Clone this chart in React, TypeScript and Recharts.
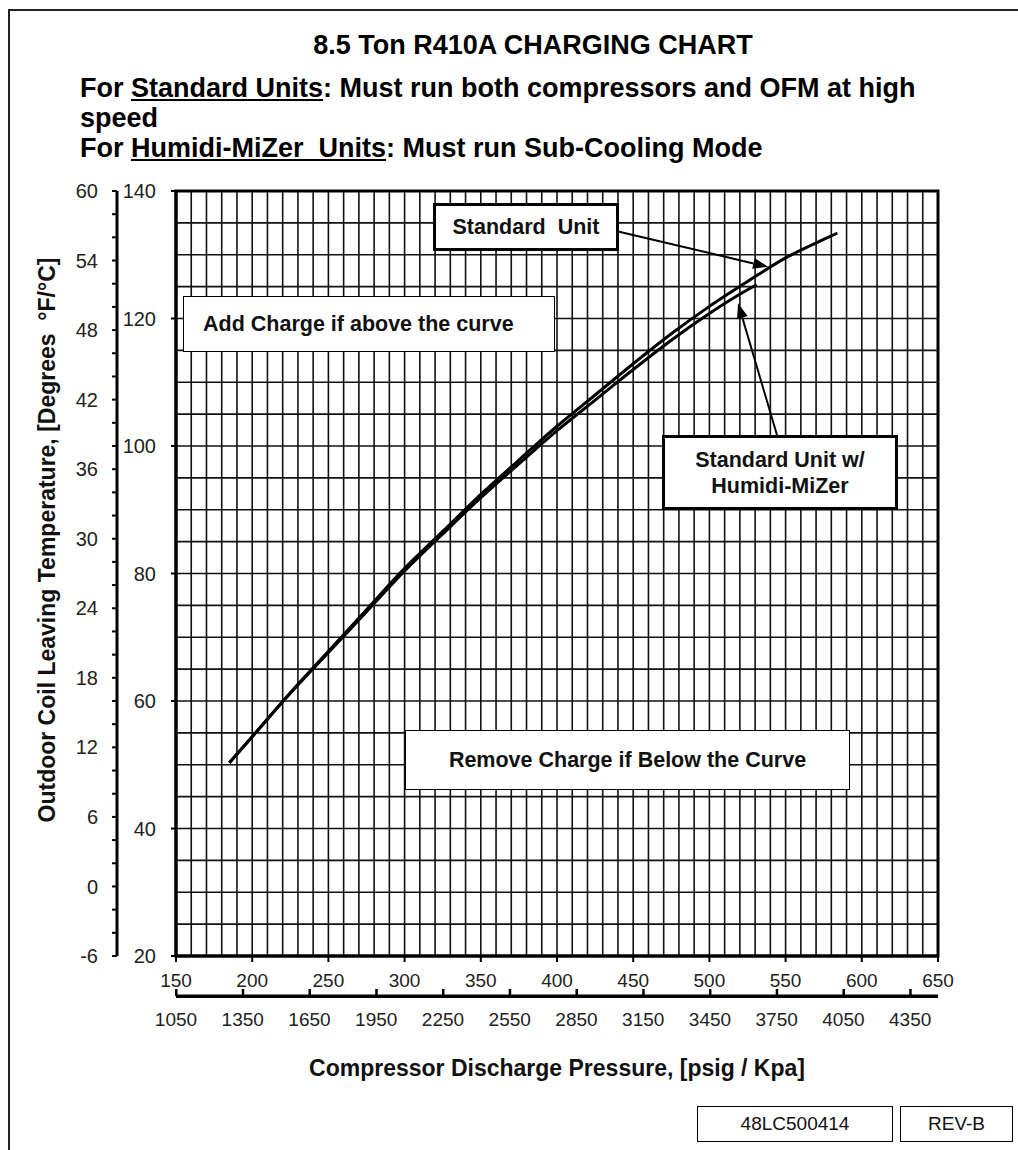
import React from "react";
import {
  CartesianGrid,
  Line,
  LineChart,
  ReferenceArea,
  ReferenceLine,
  XAxis,
  YAxis,
} from "recharts";

const ARIAL = '"Liberation Sans", Arial, sans-serif';

// Standard unit curve (psig -> degF)
const STD_PSIG = [185, 200, 225, 250, 275, 300, 325, 350, 375, 400, 425, 450, 475, 500, 525, 550, 575, 584];
const STD_TEMP = [50.3, 54.4, 61.3, 67.8, 74.3, 80.8, 86.6, 92.4, 97.8, 103.1, 108.0, 112.9, 117.6, 121.9, 125.8, 129.5, 132.4, 133.4];

// Standard unit w/ Humidi-MiZer curve
const HMZ_PSIG = [185, 200, 225, 250, 275, 300, 325, 350, 375, 400, 425, 450, 475, 500, 525, 531];
const HMZ_TEMP = [50.3, 54.4, 61.2, 67.6, 74.0, 80.4, 86.2, 91.9, 97.2, 102.4, 107.2, 112.0, 116.6, 120.8, 124.5, 125.3];

const PSIG_TICKS = [150, 200, 250, 300, 350, 400, 450, 500, 550, 600, 650];
const KPA_TICKS = [1050, 1350, 1650, 1950, 2250, 2550, 2850, 3150, 3450, 3750, 4050, 4350];
const F_TICKS = [20, 40, 60, 80, 100, 120, 140];
const C_TICKS = [-6, -4, -2, 0, 2, 4, 6, 8, 10, 12, 14, 16, 18, 20, 22, 24, 26, 28, 30, 32, 34, 36, 38, 40, 42, 44, 46, 48, 50, 52, 54, 56, 58, 60];

// grid every 10 psig / 5 degF
const GRID_X = Array.from({ length: 51 }, (_, i) => 150 + i * 10);
const GRID_Y = Array.from({ length: 25 }, (_, i) => 20 + i * 5);

const stdData = STD_PSIG.map((p, i) => ({ psig: p, temp: STD_TEMP[i] }));
const hmzData = HMZ_PSIG.map((p, i) => ({ psig: p, temp: HMZ_TEMP[i] }));
const kpaRows = KPA_TICKS.map((k) => ({ kpa: k }));

function Arrow(props: any) {
  const { x1, y1, x2, y2 } = props;
  const a = Math.atan2(y2 - y1, x2 - x1);
  const len = 15;
  const half = 5.5;
  const bx = x2 - len * Math.cos(a);
  const by = y2 - len * Math.sin(a);
  const px = -Math.sin(a) * half;
  const py = Math.cos(a) * half;
  return (
    <g>
      <line x1={x1} y1={y1} x2={bx} y2={by} stroke="#000" strokeWidth={2} />
      <polygon points={`${x2},${y2} ${bx + px},${by + py} ${bx - px},${by - py}`} fill="#000" />
    </g>
  );
}

// kPa tick: short upward mark, label below
function KpaTick(props: any) {
  const { x, y, payload } = props;
  const yy = Number(y);
  const xx = Number(x);
  return (
    <g>
      <rect x={xx - 1} y={yy - 7} width={2.5} height={7} fill="#000" />
      <text x={xx} y={yy + 30} textAnchor="middle" fill="#222" fontSize={19} fontFamily={ARIAL}>
        {payload.value}
      </text>
    </g>
  );
}

const box = (left: number, top: number, width: number, height: number, border: number): React.CSSProperties => ({
  position: "absolute",
  left,
  top,
  width,
  height,
  boxSizing: "border-box",
  border: `${border}px solid #000`,
  background: "#fff",
  display: "flex",
  flexDirection: "column",
  alignItems: "center",
  justifyContent: "center",
  fontFamily: ARIAL,
  fontWeight: "bold",
  fontSize: 21.5,
  color: "#111",
  whiteSpace: "nowrap",
});

const headLine: React.CSSProperties = {
  position: "absolute",
  left: 80,
  whiteSpace: "nowrap",
  fontFamily: ARIAL,
  fontWeight: "bold",
  fontSize: 27,
  lineHeight: "30px",
};

export default function App() {
  const xTick = { fill: "#222", fontSize: 19, fontFamily: ARIAL };
  const yTick = { fill: "#222", fontSize: 20, fontFamily: ARIAL };
  return (
    <div style={{ position: "absolute", left: 0, top: 0, width: 1018, height: 1150, background: "#fff", overflow: "hidden" }}>
      <div style={{ position: "absolute", left: 8, top: 9, width: 1020, height: 1150, borderLeft: "2px solid #222", borderTop: "2px solid #222" }} />

      <div style={{ position: "absolute", left: 0, width: 1066, top: 30, lineHeight: "30px", textAlign: "center", fontFamily: ARIAL, fontWeight: "bold", fontSize: 27 }}>
        8.5 Ton R410A CHARGING CHART
      </div>
      <div style={{ ...headLine, top: 73 }}>
        For <u>Standard Units</u>: Must run both compressors and OFM at high
      </div>
      <div style={{ ...headLine, top: 103 }}>speed</div>
      <div style={{ ...headLine, top: 133 }}>
        For <u>Humidi-MiZer&nbsp; Units</u>: Must run Sub-Cooling Mode
      </div>

      <LineChart
        width={1018}
        height={1150}
        data={kpaRows}
        margin={{ top: 191, right: 80, bottom: 114, left: 57 }}
        style={{ position: "absolute", left: 0, top: 0 }}
      >
        <CartesianGrid
          xAxisId="a_psig"
          yAxisId="a_f"
          verticalValues={GRID_X}
          horizontalValues={GRID_Y}
          stroke="#111"
          strokeWidth={1.6}
        />
        <XAxis
          xAxisId="b_kpa"
          type="number"
          dataKey="kpa"
          domain={[1050, 4475]}
          ticks={KPA_TICKS}
          interval={0}
          height={40}
          tickSize={0}
          tickMargin={0}
          tickLine={false}
          axisLine={{ stroke: "#000", strokeWidth: 3 }}
          tick={<KpaTick />}
          allowDataOverflow
        />
        <XAxis
          xAxisId="a_psig"
          type="number"
          dataKey="psig"
          domain={[150, 650]}
          ticks={PSIG_TICKS}
          interval={0}
          height={40}
          tickSize={6}
          tickMargin={12}
          axisLine={{ stroke: "#000", strokeWidth: 3 }}
          tickLine={{ stroke: "#000", strokeWidth: 2 }}
          tick={xTick}
          allowDataOverflow
        />
        <YAxis
          yAxisId="b_c"
          type="number"
          domain={[-6, 60]}
          ticks={C_TICKS}
          interval={0}
          width={60}
          tickSize={5}
          tickMargin={14}
          tickFormatter={(v: number) => (v % 6 === 0 ? String(v) : "")}
          axisLine={{ stroke: "#000", strokeWidth: 3 }}
          tickLine={{ stroke: "#000", strokeWidth: 2 }}
          tick={yTick}
          allowDataOverflow
        />
        <YAxis
          yAxisId="a_f"
          type="number"
          domain={[20, 140]}
          ticks={F_TICKS}
          interval={0}
          width={59}
          tickSize={5}
          tickMargin={15}
          axisLine={{ stroke: "#000", strokeWidth: 3 }}
          tickLine={{ stroke: "#000", strokeWidth: 2 }}
          tick={yTick}
          allowDataOverflow
        />
        <ReferenceArea xAxisId="a_psig" yAxisId="a_f" x1={150} x2={650} y1={20} y2={140} fill="none" stroke="#000" strokeWidth={3} ifOverflow="visible" />
        <Line xAxisId="a_psig" yAxisId="a_f" data={hmzData} dataKey="temp" type="monotone" stroke="#000" strokeWidth={3} dot={false} isAnimationActive={false} />
        <Line xAxisId="a_psig" yAxisId="a_f" data={stdData} dataKey="temp" type="monotone" stroke="#000" strokeWidth={3} dot={false} isAnimationActive={false} />
        <ReferenceLine xAxisId="a_psig" yAxisId="a_f" segment={[{ x: 439.4, y: 133.7 }, { x: 538.5, y: 128.1 }]} shape={<Arrow />} ifOverflow="visible" />
        <ReferenceLine xAxisId="a_psig" yAxisId="a_f" segment={[{ x: 544.4, y: 101.7 }, { x: 518.8, y: 122.4 }]} shape={<Arrow />} ifOverflow="visible" />
      </LineChart>

      <div style={box(433, 203, 186, 48, 3)}>Standard&nbsp; Unit</div>
      <div style={{ ...box(183, 296, 372, 56, 1.5), alignItems: "flex-start", paddingLeft: 19 }}>Add Charge if above the curve</div>
      <div style={{ ...box(662, 435, 236, 75, 3), lineHeight: "26px" }}>
        <div>Standard Unit w/</div>
        <div>Humidi-MiZer</div>
      </div>
      <div style={box(405, 730, 445, 60, 1.5)}>Remove Charge if Below the Curve</div>

      <div
        style={{
          position: "absolute",
          left: 47,
          top: 540,
          transform: "translate(-50%, -50%) rotate(-90deg)",
          whiteSpace: "nowrap",
          fontFamily: ARIAL,
          fontWeight: "bold",
          fontSize: 23,
          color: "#111",
        }}
      >
        Outdoor Coil Leaving Temperature, [Degrees &nbsp;°F/°C]
      </div>
      <div style={{ position: "absolute", left: 207, width: 700, top: 1055, textAlign: "center", fontFamily: ARIAL, fontWeight: "bold", fontSize: 23, color: "#111" }}>
        Compressor Discharge Pressure, [psig / Kpa]
      </div>

      <div style={{ ...box(697, 1106, 196, 36, 1.5), fontWeight: "normal", fontSize: 19 }}>48LC500414</div>
      <div style={{ ...box(900, 1106, 113, 36, 1.5), fontWeight: "normal", fontSize: 19 }}>REV-B</div>

      {/* kPa scale line under the psig axis */}
      <div style={{ position: "absolute", left: 176, top: 994.5, width: 762, height: 3, background: "#000" }} />
    </div>
  );
}
